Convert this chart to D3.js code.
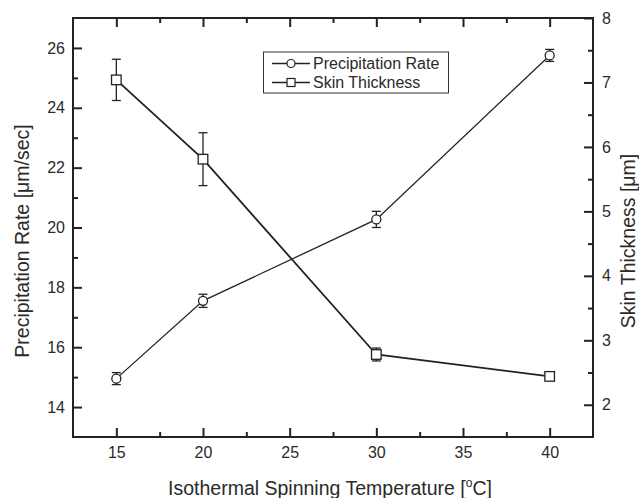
<!DOCTYPE html>
<html>
<head>
<meta charset="utf-8">
<script src="https://cdn.jsdelivr.net/npm/d3@7"></script>
<style>
  body { margin: 0; background: #fff; }
  text { font-family: "Liberation Sans", Arial, sans-serif; fill: #2a2a2a; }
</style>
</head>
<body>
<svg id="chart"></svg>
<script>
// data
const temps = [15, 20, 30, 40];
const precipRate = [14.95, 17.55, 20.27, 25.75];
const precipErr = [0.2, 0.22, 0.27, 0.2];
const skinThick = [7.04, 5.81, 2.78, 2.44];
const skinErr = [0.32, 0.41, 0.1, 0.03];

const xTicks = [15, 20, 25, 30, 35, 40];
const yLeftTicks = [14, 16, 18, 20, 22, 24, 26];
const yRightTicks = [2, 3, 4, 5, 6, 7, 8];

const width = 639;
const height = 498;
const plotLeft = 73, plotRight = 593, plotTop = 18, plotBottom = 437;
const ink = '#222';

const svg = d3.select('#chart')
  .attr('width', width)
  .attr('height', height);

const x = d3.scaleLinear().domain([12.5, 42.5]).range([plotLeft, plotRight]);
const yL = d3.scaleLinear().domain([13, 27]).range([plotBottom, plotTop]);
const yR = d3.scaleLinear().domain([1.5, 8]).range([plotBottom, plotTop]);

// axes, ticks pointing inwards
function styleAxis(g) {
  g.select('.domain').remove();
  g.selectAll('line').attr('stroke', ink).attr('stroke-width', 2);
  g.selectAll('text').style('font-size', '16px').attr('fill', '#2a2a2a');
}

svg.append('g')
  .attr('transform', `translate(0,${plotBottom})`)
  .call(d3.axisBottom(x).tickValues(xTicks).tickSize(-9).tickPadding(10))
  .call(styleAxis);
svg.append('g')
  .attr('transform', `translate(0,${plotBottom})`)
  .call(d3.axisBottom(x).tickValues([17.5, 22.5, 27.5, 32.5, 37.5]).tickSize(-5).tickFormat(''))
  .call(styleAxis);
svg.append('g')
  .attr('transform', `translate(0,${plotTop})`)
  .call(d3.axisTop(x).tickValues(xTicks).tickSize(-9).tickFormat(''))
  .call(styleAxis);
svg.append('g')
  .attr('transform', `translate(0,${plotTop})`)
  .call(d3.axisTop(x).tickValues([17.5, 22.5, 27.5, 32.5, 37.5]).tickSize(-5).tickFormat(''))
  .call(styleAxis);

svg.append('g')
  .attr('transform', `translate(${plotLeft},0)`)
  .call(d3.axisLeft(yL).tickValues(yLeftTicks).tickSize(-9).tickPadding(8))
  .call(styleAxis);
svg.append('g')
  .attr('transform', `translate(${plotLeft},0)`)
  .call(d3.axisLeft(yL).tickValues([15, 17, 19, 21, 23, 25]).tickSize(-5).tickFormat(''))
  .call(styleAxis);

svg.append('g')
  .attr('transform', `translate(${plotRight},0)`)
  .call(d3.axisRight(yR).tickValues(yRightTicks).tickSize(-9).tickPadding(9).tickFormat(d3.format('d')))
  .call(styleAxis);
svg.append('g')
  .attr('transform', `translate(${plotRight},0)`)
  .call(d3.axisRight(yR).tickValues([2.5, 3.5, 4.5, 5.5, 6.5, 7.5]).tickSize(-5).tickFormat(''))
  .call(styleAxis);

// frame
svg.append('rect')
  .attr('x', plotLeft).attr('y', plotTop)
  .attr('width', plotRight - plotLeft).attr('height', plotBottom - plotTop)
  .attr('fill', 'none').attr('stroke', ink).attr('stroke-width', 2);

// series
function drawSeries(vals, errs, yScale, shape, lineWidth) {
  const pts = temps.map((t, i) => ({ t, v: vals[i], e: errs[i] }));
  const g = svg.append('g');
  g.append('path')
    .datum(pts)
    .attr('fill', 'none')
    .attr('stroke', ink)
    .attr('stroke-width', lineWidth)
    .attr('d', d3.line().x(d => x(d.t)).y(d => yScale(d.v)));

  const err = g.selectAll('.err').data(pts).enter().append('g')
    .attr('stroke', ink).attr('stroke-width', 1.3);
  err.append('line')
    .attr('x1', d => x(d.t)).attr('x2', d => x(d.t))
    .attr('y1', d => yScale(d.v - d.e)).attr('y2', d => yScale(d.v + d.e));
  err.append('line')
    .attr('x1', d => x(d.t) - 4.5).attr('x2', d => x(d.t) + 4.5)
    .attr('y1', d => yScale(d.v + d.e)).attr('y2', d => yScale(d.v + d.e));
  err.append('line')
    .attr('x1', d => x(d.t) - 4.5).attr('x2', d => x(d.t) + 4.5)
    .attr('y1', d => yScale(d.v - d.e)).attr('y2', d => yScale(d.v - d.e));

  if (shape === 'circle') {
    g.selectAll('.mk').data(pts).enter().append('circle')
      .attr('cx', d => x(d.t)).attr('cy', d => yScale(d.v)).attr('r', 4.5)
      .attr('fill', '#fff').attr('stroke', ink).attr('stroke-width', 1.3);
  } else {
    g.selectAll('.mk').data(pts).enter().append('rect')
      .attr('x', d => x(d.t) - 4.8).attr('y', d => yScale(d.v) - 4.8)
      .attr('width', 9.6).attr('height', 9.6)
      .attr('fill', '#fff').attr('stroke', ink).attr('stroke-width', 1.3);
  }
}

drawSeries(skinThick, skinErr, yR, 'square', 1.8);
drawSeries(precipRate, precipErr, yL, 'circle', 1.3);

// legend
const legend = svg.append('g');
legend.append('rect')
  .attr('x', 263.5).attr('y', 52)
  .attr('width', 185).attr('height', 41)
  .attr('fill', '#fff').attr('stroke', '#333').attr('stroke-width', 1);

const legendItems = [
  { label: 'Precipitation Rate', shape: 'circle', y: 63.5 },
  { label: 'Skin Thickness', shape: 'square', y: 82.5 }
];
legendItems.forEach(item => {
  legend.append('line')
    .attr('x1', 272).attr('x2', 310)
    .attr('y1', item.y).attr('y2', item.y)
    .attr('stroke', ink).attr('stroke-width', 1.3);
  if (item.shape === 'circle') {
    legend.append('circle')
      .attr('cx', 291).attr('cy', item.y).attr('r', 4)
      .attr('fill', '#fff').attr('stroke', ink).attr('stroke-width', 1.2);
  } else {
    legend.append('rect')
      .attr('x', 287).attr('y', item.y - 4).attr('width', 8).attr('height', 8)
      .attr('fill', '#fff').attr('stroke', ink).attr('stroke-width', 1.2);
  }
  legend.append('text')
    .attr('x', 313).attr('y', item.y + 5.5)
    .style('font-size', '16px')
    .text(item.label);
});

// axis titles
svg.append('text')
  .attr('transform', `translate(29,241) rotate(-90)`)
  .attr('text-anchor', 'middle')
  .style('font-size', '19.5px')
  .text('Precipitation Rate [\u03bcm/sec]');

svg.append('text')
  .attr('transform', `translate(635,241) rotate(-90)`)
  .attr('text-anchor', 'middle')
  .style('font-size', '19.5px')
  .text('Skin Thickness [\u03bcm]');

const xTitle = svg.append('text')
  .attr('x', 330).attr('y', 495)
  .attr('text-anchor', 'middle')
  .style('font-size', '19.5px');
xTitle.append('tspan').text('Isothermal Spinning Temperature [');
xTitle.append('tspan').attr('dy', -8).style('font-size', '12px').text('o');
xTitle.append('tspan').attr('dy', 8).text('C]');
</script>
</body>
</html>
